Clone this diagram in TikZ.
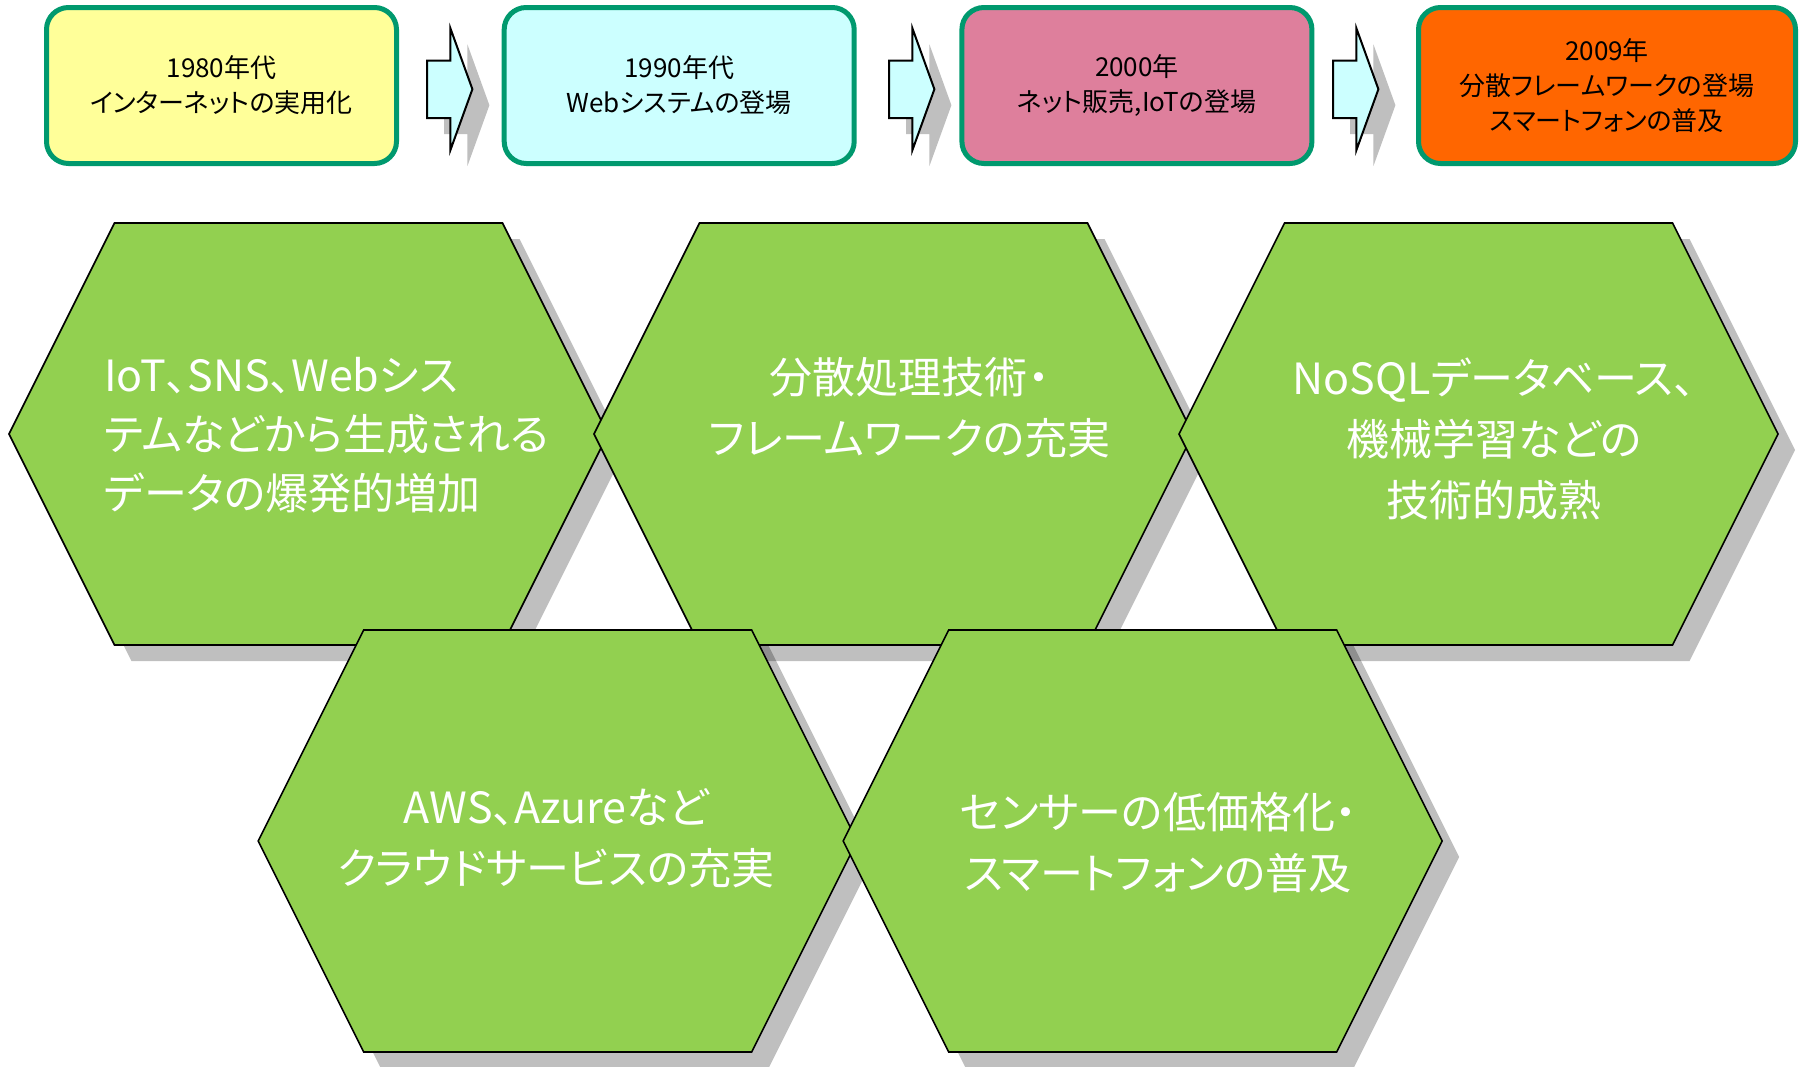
\documentclass[tikz,border=0pt]{standalone}
\usepackage{fontspec}
\setmainfont{Noto Sans CJK JP}[RawFeature=+palt]
\definecolor{eraline}{RGB}{0,153,110}
\definecolor{eraA}{RGB}{255,255,153}
\definecolor{eraB}{RGB}{204,255,255}
\definecolor{eraC}{RGB}{222,127,156}
\definecolor{eraD}{RGB}{255,102,0}
\definecolor{hexgreen}{RGB}{146,208,80}
\definecolor{arrowfill}{RGB}{204,255,255}
\tikzset{
  era/.style={draw=eraline, line width=5pt, rounded corners=22pt,
    minimum height=156pt, minimum width=350pt, inner sep=0pt,
    align=center, text=black, font=\fontsize{26}{35}\selectfont},
  dropshadow/.style={fill=black, fill opacity=0.25, draw=none},
  hexbody/.style={fill=hexgreen, draw=black, line width=1.6pt, line join=miter},
  arrowbody/.style={fill=arrowfill, draw=black, line width=2pt, line join=miter},
  hexlabel/.style={text=white, inner sep=0pt, align=center,
    font=\fontsize{43}{61}\selectfont},
  % stretched hexagon with its shadow, centred on the pic origin
  hexa/.pic={
    \fill[dropshadow, xshift=17pt, yshift=-16pt]
      (-299.5,0) -- (-194,-211) -- (194,-211) -- (299.5,0) -- (194,211) -- (-194,211) -- cycle;
    \draw[hexbody]
      (-299.5,0) -- (-194,-211) -- (194,-211) -- (299.5,0) -- (194,211) -- (-194,211) -- cycle;
  },
  % block arrow with its shadow, origin at the left end of the shaft
  blockarrow/.pic={
    \fill[dropshadow, xshift=17pt, yshift=-16pt]
      (0,60.5) -- (23.4,60.5) -- (23.4,28.3) -- (45.4,89.2) -- (23.4,150.1) -- (23.4,118) -- (0,118) -- cycle;
    \draw[arrowbody]
      (0,60.5) -- (23.4,60.5) -- (23.4,28.3) -- (45.4,89.2) -- (23.4,150.1) -- (23.4,118) -- (0,118) -- cycle;
  }
}
\begin{document}
\begin{tikzpicture}[x=1pt, y=-1pt]
\useasboundingbox (0,0) rectangle (1801,1066);

% timeline of eras
\node[era, fill=eraA] (b1) at (221.5,85.5) {1980年代\\インターネットの実用化};
\node[era, fill=eraB] (b2) at (679.2,85.5) {1990年代\\Webシステムの登場};
\node[era, fill=eraC] (b3) at (1136.9,85.5) {2000年\\ネット販売,IoTの登場};
\node[era, fill=eraD, minimum width=377pt] (b4) at (1607,85.5) {2009年\\分散フレームワークの登場\\スマートフォンの普及};

\pic (a1) at (427,0) {blockarrow};
\pic (a2) at (889,0) {blockarrow};
\pic (a3) at (1333,0) {blockarrow};

% drivers, upper row then lower row
\pic (h1) at (308.5,434) {hexa};
\pic (h2) at (893.5,434) {hexa};
\pic (h3) at (1478.5,434) {hexa};
\pic (h4) at (557.7,841) {hexa};
\pic (h5) at (1142.7,841) {hexa};

\node[hexlabel, align=left, anchor=west, font=\fontsize{43}{59}\selectfont] (t1) at (104,435.5)
  {IoT、SNS、Webシス\\テムなどから生成される\\データの爆発的増加};
\node[hexlabel] (t2) at (909.7,408) {分散処理技術・\\フレームワークの充実};
\node[hexlabel] (t3) at (1494,439) {NoSQLデータベース、\\機械学習などの\\技術的成熟};
\node[hexlabel] (t4) at (556,838.5) {AWS、Azureなど\\クラウドサービスの充実};
\node[hexlabel] (t5) at (1158,842.5) {センサーの低価格化・\\スマートフォンの普及};
\end{tikzpicture}
\end{document}
